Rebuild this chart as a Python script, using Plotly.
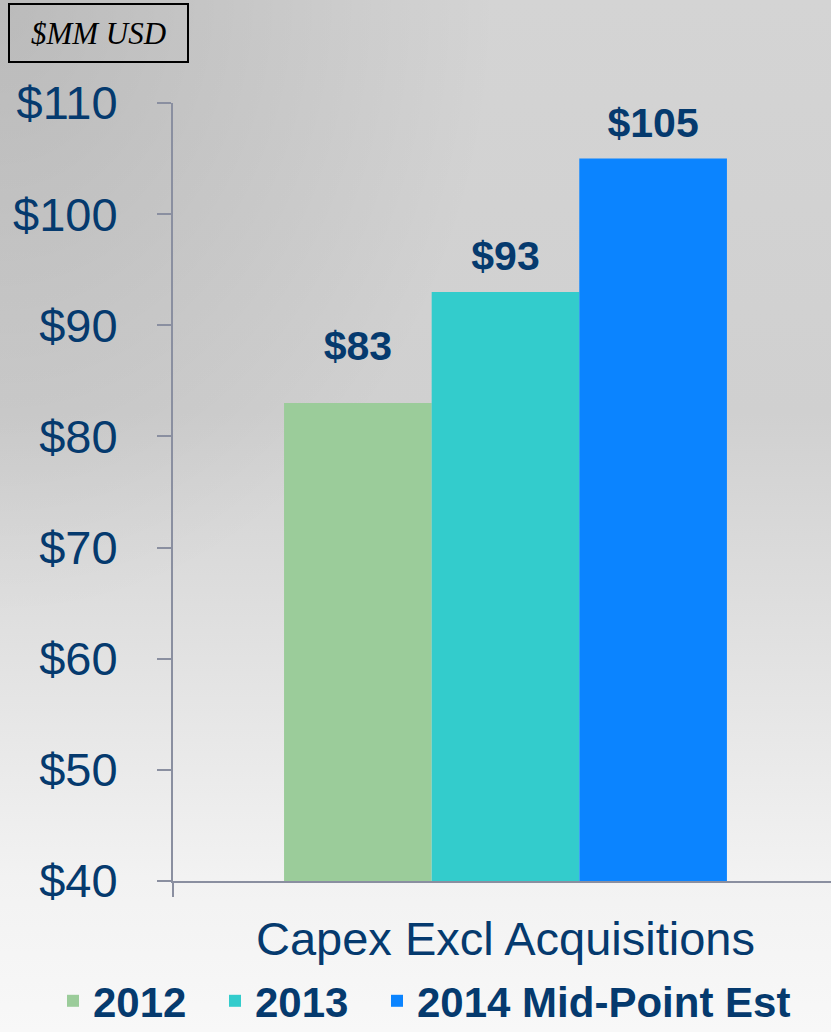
import base64
import plotly.graph_objects as go

# ---- data ----
categories = ["Capex Excl Acquisitions"]
series_names = ["2012", "2013", "2014 Mid-Point Est"]
series_values = [[83], [93], [105]]
series_colors = ["#9BCC9A", "#33CCCC", "#0B84FF"]
y_tick_values = [40, 50, 60, 70, 80, 90, 100, 110]
y_tick_labels = ["$40", "$50", "$60", "$70", "$80", "$90", "$100", "$110"]

W, H = 831, 1032
ML, MR, MT, MB = 173, 0, 103, 151
PW, PH = W - ML - MR, H - MT - MB
NAVY = "#053A6E"
AXIS = "#8A8FA0"

# per-series label spacing (style) and legend slot (layout)
label_pad_sizes = [26, 12, 12]
legend_ids = ["legend", "legend2", "legend3"]
legend_left_px = [53, 215, 377]

fig = go.Figure()
for name, vals, col, pad, lid in zip(series_names, series_values, series_colors,
                                     label_pad_sizes, legend_ids):
    fig.add_trace(go.Bar(
        name=name, x=categories, y=vals,
        marker=dict(color=col, line=dict(width=0)),
        texttemplate="<span style='font-size:41px'><b>$%{y}</b></span><br>\u00a0",
        textposition="outside",
        textfont=dict(family="Liberation Sans, Arial", size=pad, color=NAVY),
        constraintext="none",
        cliponaxis=False,
        hoverinfo="skip",
        legend=lid,
    ))

svg = f"""<svg xmlns='http://www.w3.org/2000/svg' width='{W}' height='{H}' viewBox='0 0 {W} {H}' preserveAspectRatio='none'>
<defs>
<linearGradient id='g' x1='0' y1='0' x2='0' y2='1'>
<stop offset='0' stop-color='#D4D4D4'/>
<stop offset='0.40' stop-color='#D0D0D0'/>
<stop offset='0.85' stop-color='#F2F2F2'/>
<stop offset='1' stop-color='#F8F8F8'/>
</linearGradient>
<radialGradient id='r' cx='0' cy='0' r='0.6'>
<stop offset='0' stop-color='#000' stop-opacity='0.12'/>
<stop offset='1' stop-color='#000' stop-opacity='0'/>
</radialGradient>
</defs>
<rect width='{W}' height='{H}' fill='url(#g)'/>
<rect width='{W}' height='{H}' fill='url(#r)'/>
</svg>"""
src = "data:image/svg+xml;base64," + base64.b64encode(svg.encode()).decode()

legend_style = dict(
    orientation="h", xanchor="left",
    y=(881 - 1001) / PH, yanchor="middle",
    font=dict(size=42, color=NAVY, family="Liberation Sans, Arial", weight="bold"),
    bgcolor="rgba(0,0,0,0)", itemclick=False, itemdoubleclick=False,
)
legends = {lid: dict(legend_style, x=(px - ML) / PW) for lid, px in zip(legend_ids, legend_left_px)}

fig.update_layout(
    width=W, height=H,
    margin=dict(l=ML, r=MR, t=MT, b=MB, pad=0, autoexpand=False),
    paper_bgcolor="rgba(0,0,0,0)",
    plot_bgcolor="rgba(0,0,0,0)",
    barmode="group",
    bargap=0.334,
    bargroupgap=0,
    font=dict(family="Liberation Sans, Arial", color=NAVY),
    images=[dict(source=src, xref="paper", yref="paper",
                 x=-ML / PW, y=1 + MT / PH, sizex=W / PW, sizey=H / PH,
                 xanchor="left", yanchor="top", sizing="stretch", layer="below")],
    xaxis=dict(
        type="category", range=[-0.5, 0.4895],
        showline=True, linecolor=AXIS, linewidth=2,
        ticks="outside", tickson="boundaries", ticklen=14, tickwidth=2, tickcolor=AXIS,
        tickfont=dict(size=47, color=NAVY),
        ticklabelstandoff=16,
        showgrid=False, zeroline=False, fixedrange=True,
    ),
    yaxis=dict(
        range=[40, 110], tickmode="array", tickvals=y_tick_values, ticktext=y_tick_labels,
        showline=True, linecolor=AXIS, linewidth=2,
        ticks="outside", ticklen=14, tickwidth=2, tickcolor=AXIS,
        tickfont=dict(size=47, color=NAVY),
        ticklabelstandoff=30,
        showgrid=False, zeroline=False, fixedrange=True,
    ),
    showlegend=True,
    annotations=[dict(
        text="$MM USD", xref="paper", yref="paper",
        x=(8 - ML) / PW, y=1 + (MT - 3) / PH, xanchor="left", yanchor="top",
        showarrow=False, width=177, height=56, borderpad=0,
        bordercolor="#000000", borderwidth=2,
        font=dict(family="Liberation Serif, Times New Roman", size=31, color="#000000", style="italic"),
    )],
    **legends,
)

fig.write_html("out.html")
